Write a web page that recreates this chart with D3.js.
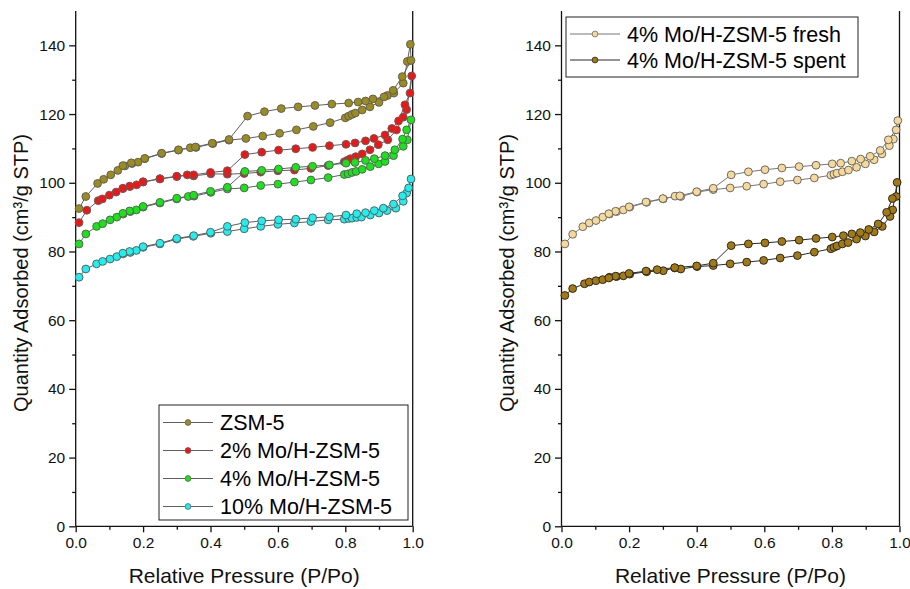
<!DOCTYPE html>
<html>
<head>
<meta charset="utf-8">
<script src="https://cdn.jsdelivr.net/npm/d3@7"></script>
<style>
  body { margin: 0; background: #fff; }
  svg { display: block; font-family: "Liberation Sans", Arial, sans-serif; }
</style>
</head>
<body>
<svg id="chart"></svg>
<script>
// isotherm data, [P/Po, quantity] - adsorption then desorption branch
var zsmAds = [[0.01,92.5],[0.03,96.0],[0.065,99.8],[0.083,101.0],[0.104,102.3],[0.125,103.6],[0.146,104.9],[0.167,105.6],[0.185,106.0],[0.205,107.0],[0.255,108.5],[0.305,109.5],[0.34,110.2],[0.357,110.3],[0.407,111.4],[0.455,112.4],[0.505,112.9],[0.555,113.6],[0.605,114.4],[0.655,115.4],[0.705,116.4],[0.755,117.5],[0.80,118.9],[0.81,119.4],[0.82,119.9],[0.83,120.3],[0.85,121.2],[0.873,122.1],[0.90,123.4],[0.925,125.4],[0.944,126.1],[0.972,129.0],[0.984,135.3],[0.993,140.3]];
var zsmDes = [[0.995,135.6],[0.969,130.9],[0.942,126.9],[0.915,125.0],[0.882,124.4],[0.86,123.8],[0.838,123.5],[0.81,123.2],[0.76,122.9],[0.71,122.5],[0.66,122.1],[0.61,121.6],[0.56,120.7],[0.51,119.4],[0.455,112.6],[0.405,111.5],[0.355,110.4],[0.305,109.6],[0.255,108.6],[0.205,107.1],[0.165,105.8],[0.14,105.0]];

var mo2Ads = [[0.01,88.4],[0.033,92.0],[0.067,94.8],[0.079,95.3],[0.10,96.4],[0.12,97.3],[0.14,98.3],[0.161,98.9],[0.181,99.4],[0.20,100.2],[0.25,101.1],[0.30,101.8],[0.331,102.3],[0.35,102.0],[0.401,102.6],[0.45,102.5],[0.50,102.7],[0.549,103.1],[0.60,103.5],[0.649,103.7],[0.698,104.2],[0.749,105.0],[0.797,106.1],[0.805,106.5],[0.815,107.0],[0.831,107.6],[0.85,108.4],[0.873,109.6],[0.898,111.1],[0.926,112.5],[0.952,115.4],[0.972,119.1],[0.982,121.3],[0.997,131.1]];
var mo2Des = [[0.992,126.1],[0.977,122.7],[0.958,118.0],[0.938,115.8],[0.918,113.9],[0.885,112.9],[0.86,112.2],[0.829,111.6],[0.802,111.2],[0.753,110.8],[0.703,110.3],[0.653,109.9],[0.602,109.5],[0.552,108.9],[0.502,108.2],[0.45,103.5],[0.40,103.0],[0.35,102.3],[0.30,101.9],[0.25,101.2],[0.20,100.3],[0.16,99.0],[0.14,98.4]];

var mo4Ads = [[0.01,82.2],[0.03,85.1],[0.062,87.3],[0.08,88.1],[0.102,89.2],[0.122,90.0],[0.141,90.9],[0.162,91.6],[0.18,92.1],[0.20,92.9],[0.25,94.1],[0.30,95.3],[0.334,96.0],[0.351,96.1],[0.401,97.2],[0.45,98.2],[0.50,98.5],[0.549,99.2],[0.60,99.6],[0.649,100.2],[0.698,100.8],[0.749,101.5],[0.797,102.4],[0.808,102.6],[0.82,103.0],[0.832,103.3],[0.85,103.9],[0.874,104.7],[0.899,105.5],[0.918,106.2],[0.943,107.9],[0.972,110.6],[0.984,112.5],[0.995,118.3]];
var mo4Des = [[0.982,115.4],[0.97,112.7],[0.947,109.6],[0.918,107.9],[0.886,107.0],[0.86,106.5],[0.829,105.9],[0.802,105.7],[0.753,105.2],[0.703,104.8],[0.653,104.5],[0.602,104.0],[0.552,103.6],[0.502,103.3],[0.45,98.7],[0.40,97.5],[0.35,96.4],[0.30,95.5],[0.25,94.3],[0.20,93.1],[0.16,91.8],[0.14,91.1]];

var mo10Ads = [[0.01,72.5],[0.03,74.9],[0.062,76.4],[0.08,77.1],[0.102,77.8],[0.122,78.5],[0.141,79.3],[0.162,79.7],[0.18,80.3],[0.20,81.2],[0.25,82.2],[0.30,83.6],[0.349,84.4],[0.401,85.3],[0.45,85.8],[0.50,86.6],[0.549,87.3],[0.60,87.9],[0.649,88.3],[0.698,88.7],[0.749,89.2],[0.797,89.4],[0.81,89.6],[0.82,89.7],[0.834,89.9],[0.848,90.0],[0.874,90.6],[0.90,91.2],[0.924,91.9],[0.95,92.6],[0.972,94.6],[0.982,97.0],[0.995,101.1]];
var mo10Des = [[0.988,98.5],[0.97,96.2],[0.943,93.8],[0.913,92.6],[0.886,91.9],[0.86,91.3],[0.834,91.0],[0.802,90.6],[0.753,90.1],[0.703,89.8],[0.653,89.4],[0.602,89.2],[0.552,88.9],[0.502,88.4],[0.45,87.3],[0.40,85.6],[0.35,84.6],[0.30,83.8],[0.25,82.4],[0.20,81.4],[0.16,80.0],[0.14,79.5]];

var freshAds = [[0.01,82.2],[0.033,85.0],[0.063,87.2],[0.082,88.3],[0.102,89.0],[0.122,90.0],[0.142,90.9],[0.163,91.6],[0.183,92.1],[0.202,92.9],[0.252,94.3],[0.301,95.3],[0.336,96.1],[0.353,96.0],[0.401,97.3],[0.449,98.0],[0.499,98.5],[0.548,99.0],[0.598,99.6],[0.647,100.3],[0.698,100.8],[0.748,101.4],[0.797,102.2],[0.806,102.5],[0.815,102.8],[0.831,103.2],[0.849,103.7],[0.873,104.5],[0.899,105.5],[0.925,106.7],[0.948,108.4],[0.97,110.8],[0.982,112.7],[0.995,118.1]];
var freshDes = [[0.99,115.4],[0.967,112.5],[0.943,109.4],[0.913,107.7],[0.885,106.9],[0.859,106.3],[0.826,105.7],[0.801,105.5],[0.753,105.1],[0.703,104.7],[0.652,104.3],[0.602,103.8],[0.553,103.2],[0.502,102.3],[0.449,98.4],[0.40,97.4],[0.35,96.2],[0.30,95.4],[0.25,94.4],[0.20,93.0],[0.16,91.7],[0.14,91.0]];

var spentAds = [[0.01,67.2],[0.033,69.2],[0.068,70.6],[0.082,71.1],[0.102,71.5],[0.122,71.8],[0.142,72.5],[0.163,72.7],[0.183,72.9],[0.202,73.4],[0.252,74.1],[0.301,74.4],[0.335,75.2],[0.353,74.9],[0.401,75.6],[0.449,75.9],[0.499,76.4],[0.548,76.9],[0.598,77.4],[0.647,78.1],[0.698,78.8],[0.748,79.8],[0.797,80.8],[0.806,81.2],[0.815,81.6],[0.831,82.2],[0.848,82.6],[0.873,83.6],[0.899,84.5],[0.925,85.7],[0.949,87.3],[0.972,90.2],[0.98,92.1],[0.993,100.1]];
var spentDes = [[0.99,96.0],[0.979,95.4],[0.962,91.4],[0.937,88.0],[0.909,86.4],[0.884,85.5],[0.859,85.1],[0.834,84.6],[0.801,84.2],[0.753,83.8],[0.703,83.3],[0.652,82.9],[0.602,82.5],[0.553,82.2],[0.502,81.7],[0.449,76.6],[0.40,75.8],[0.335,75.3],[0.283,74.7],[0.25,74.3],[0.20,73.6],[0.16,72.8],[0.14,72.3]];

var leftNames = ["ZSM-5", "2% Mo/H-ZSM-5", "4% Mo/H-ZSM-5", "10% Mo/H-ZSM-5"];
var rightNames = ["4% Mo/H-ZSM-5 fresh", "4% Mo/H-ZSM-5 spent"];
var xTicks = [0, 0.2, 0.4, 0.6, 0.8, 1.0];
var yTicks = [0, 20, 40, 60, 80, 100, 120, 140];

var width = 910, height = 589;
var yTop = 11, yBottom = 526.3;

var svg = d3.select("#chart").attr("width", width).attr("height", height);
svg.append("rect").attr("width", width).attr("height", height).attr("fill", "#fff");

function drawPanel(x0, x1, series, legend) {
    var x = d3.scaleLinear().domain([0, 1]).range([x0, x1]);
    var y = d3.scaleLinear().domain([0, 150]).range([yBottom, yTop]);
    var g = svg.append("g");

    // minor ticks
    g.append("g").attr("transform", "translate(0," + yBottom + ")")
        .call(d3.axisBottom(x).tickValues(d3.range(0.1, 1, 0.2)).tickSize(3.5).tickFormat(""))
        .call(function(a) { a.select(".domain").remove(); });
    g.append("g").attr("transform", "translate(" + x0 + ",0)")
        .call(d3.axisLeft(y).tickValues(d3.range(10, 150, 20)).tickSize(3.5).tickFormat(""))
        .call(function(a) { a.select(".domain").remove(); });

    var xa = g.append("g").attr("transform", "translate(0," + yBottom + ")")
        .call(d3.axisBottom(x).tickValues(xTicks).tickSize(6).tickPadding(5).tickFormat(d3.format(".1f")));
    xa.select(".domain").attr("d", "M" + x0 + ",0H" + x1);
    var ya = g.append("g").attr("transform", "translate(" + x0 + ",0)")
        .call(d3.axisLeft(y).tickValues(yTicks).tickSize(6.5).tickPadding(4));
    ya.select(".domain").attr("d", "M0," + yBottom + "V" + yTop);

    g.selectAll(".tick text").attr("font-size", 15.5).attr("fill", "#111")
        .attr("font-family", "'Liberation Sans', Arial, sans-serif");
    g.selectAll(".domain, .tick line").attr("stroke", "#111").attr("stroke-width", 1.3);

    // right frame line
    g.append("line")
        .attr("x1", x1).attr("x2", x1).attr("y1", yTop).attr("y2", yBottom)
        .attr("stroke", "#111").attr("stroke-width", 1.3);

    var line = d3.line().x(function(d) { return x(d[0]); }).y(function(d) { return y(d[1]); });

    series.forEach(function(s) {
        var pts = s.ads.concat(s.des);
        g.append("path").datum(pts)
            .attr("d", line)
            .attr("fill", "none")
            .attr("stroke", s.line)
            .attr("stroke-width", 1);
        g.selectAll(null).data(pts).enter().append("circle")
            .attr("cx", function(d) { return x(d[0]); })
            .attr("cy", function(d) { return y(d[1]); })
            .attr("r", 3.9)
            .attr("fill", s.color)
            .attr("stroke", s.edge)
            .attr("stroke-width", 1);
    });

    // legend
    var lg = g.append("g");
    lg.append("rect")
        .attr("x", legend.x).attr("y", legend.y)
        .attr("width", legend.w).attr("height", legend.h)
        .attr("fill", "#fff").attr("stroke", "#222").attr("stroke-width", 1);
    series.forEach(function(s, i) {
        var cy = legend.y + legend.first + i * legend.step;
        lg.append("line")
            .attr("x1", legend.x + 4).attr("x2", legend.x + 54)
            .attr("y1", cy).attr("y2", cy)
            .attr("stroke", s.line).attr("stroke-width", 1);
        lg.append("circle")
            .attr("cx", legend.x + 29).attr("cy", cy).attr("r", 2.9)
            .attr("fill", s.color).attr("stroke", s.edge).attr("stroke-width", 0.8);
        lg.append("text")
            .attr("x", legend.x + 61).attr("y", cy + 7.5)
            .attr("font-size", 21.5).attr("fill", "#000")
            .text(s.name);
    });

    // axis titles
    svg.append("text")
        .attr("x", (x0 + x1) / 2).attr("y", 583)
        .attr("text-anchor", "middle").attr("font-size", 21).attr("fill", "#111")
        .text("Relative Pressure (P/Po)");
    svg.append("text")
        .attr("transform", "translate(" + (x0 - 48) + ",273) rotate(-90)")
        .attr("text-anchor", "middle").attr("font-size", 20).attr("fill", "#111")
        .text("Quantity Adsorbed (cm\u00b3/g STP)");
}

drawPanel(75.7, 412.7, [
    { name: leftNames[0], ads: zsmAds, des: zsmDes, color: "#9c8c1c", edge: "#5f5f5f", line: "#5f5f5f" },
    { name: leftNames[1], ads: mo2Ads, des: mo2Des, color: "#f41414", edge: "#5f5f5f", line: "#5f5f5f" },
    { name: leftNames[2], ads: mo4Ads, des: mo4Des, color: "#16e616", edge: "#5f5f5f", line: "#5f5f5f" },
    { name: leftNames[3], ads: mo10Ads, des: mo10Des, color: "#1ef0f0", edge: "#5f5f5f", line: "#5f5f5f" }
], { x: 159, y: 405, w: 249, h: 115, first: 17.5, step: 28 });

drawPanel(561.5, 899.5, [
    { name: rightNames[0], ads: freshAds, des: freshDes, color: "#f7d896", edge: "#6a6a6a", line: "#777" },
    { name: rightNames[1], ads: spentAds, des: spentDes, color: "#a47a10", edge: "#2a2a2a", line: "#2a2a2a" }
], { x: 566, y: 17, w: 292, h: 60, first: 17, step: 26 });
</script>
</body>
</html>
